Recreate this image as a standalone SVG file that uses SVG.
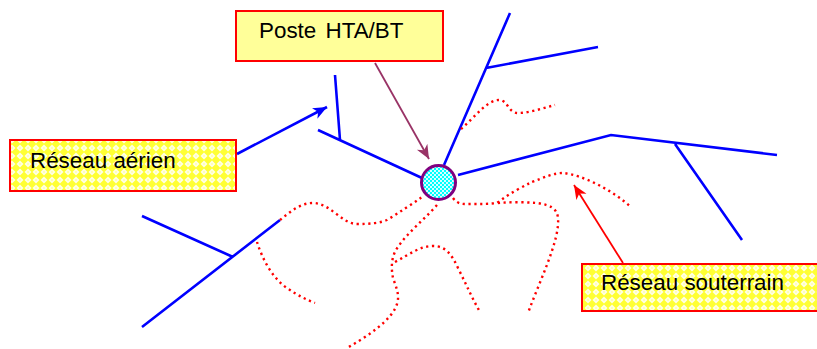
<svg xmlns="http://www.w3.org/2000/svg" width="817" height="349" viewBox="0 0 817 349">
<style>
.box{stroke:#ff0000;stroke-width:2}
.t{font-family:"Liberation Sans",Arial,sans-serif;font-size:22.400px;fill:#000}
.blue{fill:none;stroke:#0000ff;stroke-width:2.600}
.dot{fill:none;stroke:#ff0000;stroke-width:2.400;stroke-dasharray:2.200 3.600}
</style>
<defs>
<pattern id="lat" width="8" height="8" patternUnits="userSpaceOnUse">
<rect width="8" height="8" fill="#ffff33"/>
<path d="M4 0.500L7.500 4L4 7.500L0.500 4Z" fill="#ffffe6"/>
<rect x="3.300" y="3.300" width="1.400" height="1.400" fill="#ffff88"/>
</pattern>
<pattern id="chk" width="4" height="4" patternUnits="userSpaceOnUse">
<rect width="4" height="4" fill="#00ffff"/>
<rect width="2" height="2" fill="#d8ffff"/>
<rect x="2" y="2" width="2" height="2" fill="#d8ffff"/>
</pattern>
<marker id="hb" markerUnits="userSpaceOnUse" markerWidth="16" markerHeight="14" refX="14" refY="6" orient="auto"><path d="M0 0L14 6L0 12L4 6Z" fill="#0000ff"/></marker>
<marker id="hm" markerUnits="userSpaceOnUse" markerWidth="16" markerHeight="14" refX="14" refY="6" orient="auto"><path d="M0 0L14 6L0 12L4 6Z" fill="#993366"/></marker>
<marker id="hr" markerUnits="userSpaceOnUse" markerWidth="16" markerHeight="14" refX="14" refY="6" orient="auto"><path d="M0 0L14 6L0 12L4 6Z" fill="#ff0000"/></marker>
</defs>
<g id="connectors">
<path class="blue" d="M335 75L340 140M318 130L422 178M444 165L510 13M486 68L598 47M458 175L611 135L777 155M675 144L742 240M142 216L233 257M142 327L280 220"/>
<path class="dot" d="M461 129C475 117 487 100 499 100C508 100 508 113 518 113C530 113 543 108 555 105"/>
<path class="dot" d="M280 220C290 212 300 203 313 203C330 203 342 224 357 224C370 224 380 223 387 220C400 212 412 204 422 197"/>
<path class="dot" d="M257 242C262 258 272 278 287 288C297 295 305 299 315 303"/>
<path class="dot" d="M437 205C424 220 408 232 398 247C391 256 391 268 393 278C396 287 400 295 397 304C392 320 368 336 347 348"/>
<path class="dot" d="M395 262C410 254 420 246 433 246C446 246 452 255 458 268C466 284 472 298 480 312"/>
<path class="dot" d="M453 198C458 205 464 204 470 204C480 204 490 204 497 203C510 193 522 187 532 182C545 177 554 173 563 173C583 175 612 190 631 207"/>
<path class="dot" d="M498 203C510 202 525 202 537 203C550 205 557 208 558 218C560 240 540 280 528 313"/>
<path d="M237 154L327 107" class="blue" marker-end="url(#hb)"/>
<path d="M375 63L429 159" fill="none" stroke="#993366" stroke-width="1.800" marker-end="url(#hm)"/>
<path d="M623 263L574 185" fill="none" stroke="#ff0000" stroke-width="1.800" marker-end="url(#hr)"/>
</g>
<g id="poste-label"><rect class="box" x="236" y="11" width="207" height="50" fill="#ffff99"/><text class="t" x="259" y="38" word-spacing="3">Poste HTA/BT</text></g>
<g id="aerien-label"><rect class="box" x="10" y="140" width="226" height="51" fill="url(#lat)"/><text class="t" x="30" y="168">Réseau aérien</text></g>
<g id="souterrain-label"><rect class="box" x="582" y="264" width="240" height="47" fill="url(#lat)"/><text class="t" x="601" y="290">Réseau souterrain</text></g>
<g id="poste"><circle cx="438.500" cy="182.500" r="17" fill="url(#chk)" stroke="#800080" stroke-width="3"/></g>
</svg>
